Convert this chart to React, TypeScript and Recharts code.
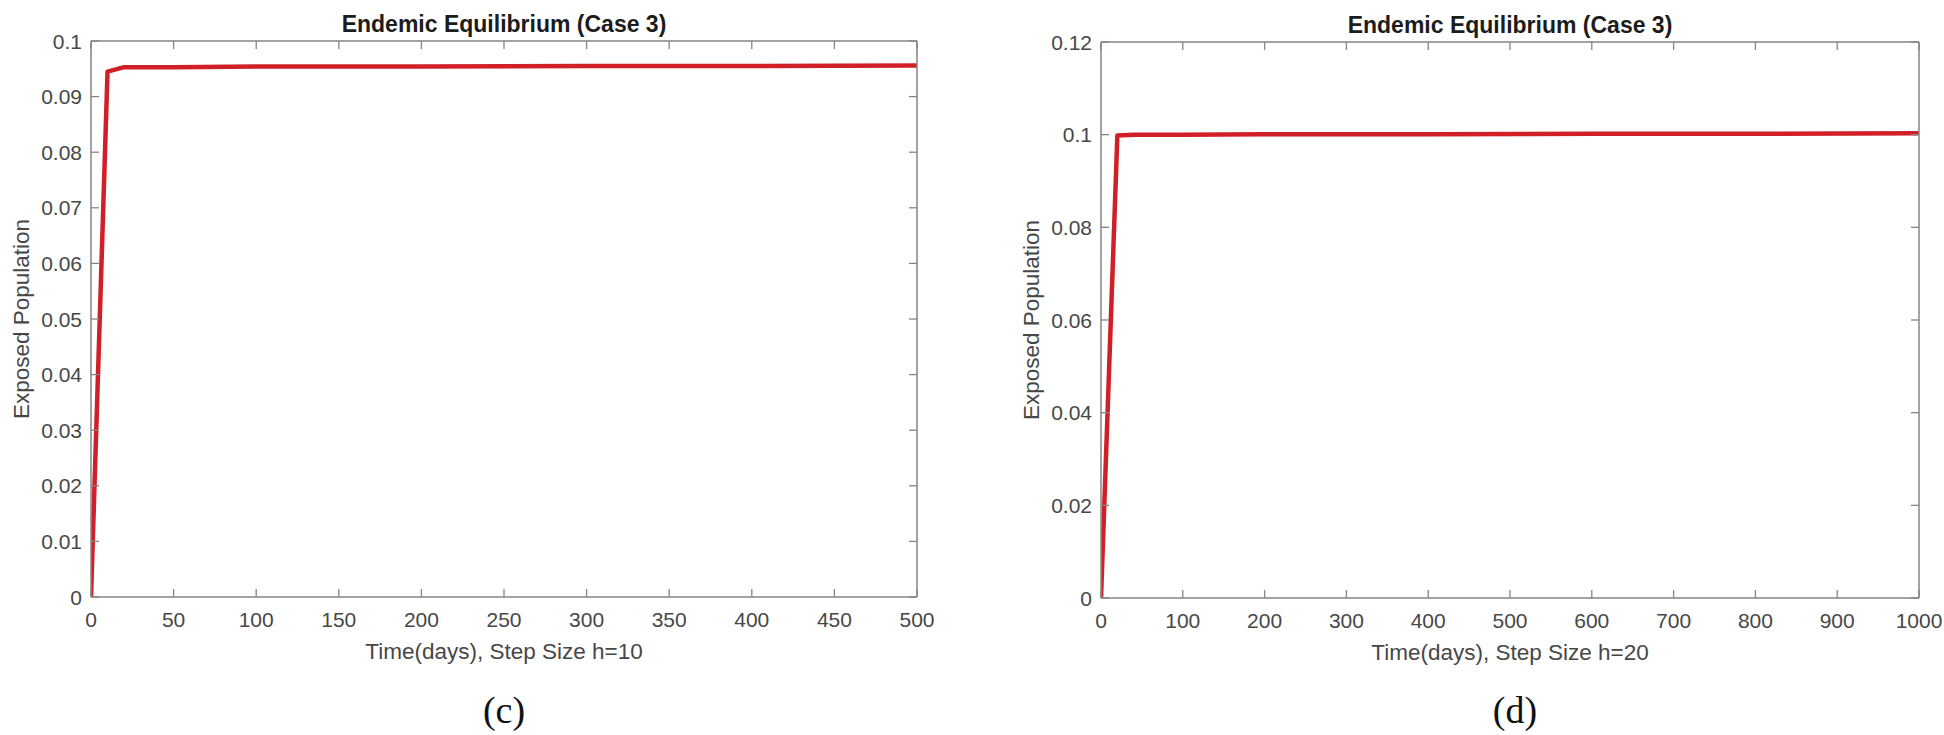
import { LineChart, Line, XAxis, YAxis } from 'recharts';

// panel (c): step size h=10
const timeC = [0, 10, 20, 50, 100, 200, 300, 400, 500];
const exposedC = [0, 0.0945, 0.0953, 0.0953, 0.0954, 0.0954, 0.0955, 0.0955, 0.0956];
const xTicksC = [0, 50, 100, 150, 200, 250, 300, 350, 400, 450, 500];
const yTicksC = [0, 0.01, 0.02, 0.03, 0.04, 0.05, 0.06, 0.07, 0.08, 0.09, 0.1];

// panel (d): step size h=20
const timeD = [0, 20, 40, 100, 200, 400, 600, 800, 1000];
const exposedD = [0, 0.0998, 0.1, 0.1, 0.1001, 0.1001, 0.1002, 0.1002, 0.1003];
const xTicksD = [0, 100, 200, 300, 400, 500, 600, 700, 800, 900, 1000];
const yTicksD = [0, 0.02, 0.04, 0.06, 0.08, 0.1, 0.12];

const FONT = '"Liberation Sans", Arial, sans-serif';
const AXIS = '#858585';
const TXT = '#474747';
const RED = '#d11f28';
const TICK = 8;

const fmt = (v: number) => String(+v.toFixed(2));

const BottomTick = (p: any) => (
  <g>
    <line x1={p.x} y1={p.y} x2={p.x} y2={p.y - TICK} stroke={AXIS} strokeWidth={1.3} />
    <text x={p.x} y={p.y + 30} textAnchor="middle" fontSize={21} fontFamily={FONT} fill={TXT}>
      {fmt(p.payload.value)}
    </text>
  </g>
);

const LeftTick = (p: any) => (
  <g>
    <line x1={p.x} y1={p.y} x2={p.x + TICK} y2={p.y} stroke={AXIS} strokeWidth={1.3} />
    <text x={p.x - 9} y={p.y + 7.5} textAnchor="end" fontSize={21} fontFamily={FONT} fill={TXT}>
      {fmt(p.payload.value)}
    </text>
  </g>
);

const TopTick = (p: any) => (
  <line x1={p.x} y1={p.y} x2={p.x} y2={p.y + TICK} stroke={AXIS} strokeWidth={1.3} />
);

const RightTick = (p: any) => (
  <line x1={p.x} y1={p.y} x2={p.x - TICK} y2={p.y} stroke={AXIS} strokeWidth={1.3} />
);

interface PanelProps {
  time: number[];
  values: number[];
  xTicks: number[];
  yTicks: number[];
  xLabel: string;
  width: number;
  top: number;
  right: number;
}

function Panel({ time, values, xTicks, yTicks, xLabel, width, top, right }: PanelProps) {
  const data = time.map((t, i) => ({ t, e: values[i] }));
  const xMax = xTicks[xTicks.length - 1];
  const yMax = yTicks[yTicks.length - 1];

  // x label plus the panel title, both centred on the plot
  const bottomLabel = (p: any) => {
    const vb = p.viewBox;
    const cx = vb.x + vb.width / 2;
    return (
      <g>
        <text x={cx} y={top - 9} textAnchor="middle" fontSize={23} fontWeight="bold" fontFamily={FONT} fill="#1c1c1c">
          Endemic Equilibrium (Case 3)
        </text>
        <text x={cx} y={vb.y + 62} textAnchor="middle" fontSize={22.5} fontFamily={FONT} fill={TXT}>
          {xLabel}
        </text>
      </g>
    );
  };
  const leftLabel = (p: any) => {
    const vb = p.viewBox;
    const cx = vb.x + 29;
    const cy = vb.y + vb.height / 2;
    return (
      <text x={cx} y={cy} transform={`rotate(-90, ${cx}, ${cy})`} textAnchor="middle" fontSize={22.5} fontFamily={FONT} fill={TXT}>
        Exposed Population
      </text>
    );
  };

  return (
    <LineChart width={width} height={735} data={data} margin={{ top: top - 1, right: right - 1, bottom: 735 - top - 558 - 80 + 2, left: 0 }}>
      <XAxis xAxisId="b" dataKey="t" type="number" domain={[0, xMax]} ticks={xTicks} interval={0}
        tickSize={0} tickMargin={0} tickLine={false} tick={<BottomTick />} height={80}
        axisLine={{ stroke: AXIS, strokeWidth: 1.5 }} label={bottomLabel} allowDataOverflow />
      <XAxis xAxisId="t" orientation="top" dataKey="t" type="number" domain={[0, xMax]} ticks={xTicks} interval={0}
        tickSize={0} tickMargin={0} tickLine={false} tick={<TopTick />} height={1}
        axisLine={{ stroke: AXIS, strokeWidth: 1.5 }} allowDataOverflow />
      <YAxis yAxisId="l" type="number" domain={[0, yMax]} ticks={yTicks} interval={0}
        tickSize={0} tickMargin={0} tickLine={false} tick={<LeftTick />} width={91}
        axisLine={{ stroke: AXIS, strokeWidth: 1.5 }} label={leftLabel} allowDataOverflow />
      <YAxis yAxisId="r" orientation="right" type="number" domain={[0, yMax]} ticks={yTicks} interval={0}
        tickSize={0} tickMargin={0} tickLine={false} tick={<RightTick />} width={1}
        axisLine={{ stroke: AXIS, strokeWidth: 1.5 }} allowDataOverflow />
      <Line xAxisId="b" yAxisId="l" type="linear" dataKey="e" stroke={RED} strokeWidth={4.5}
        strokeLinejoin="round" dot={false} isAnimationActive={false} />
    </LineChart>
  );
}

const capStyle = {
  position: 'absolute' as const,
  top: 690,
  fontFamily: '"Liberation Serif", "Times New Roman", serif',
  fontSize: 38,
  color: '#111',
  lineHeight: '40px',
  transform: 'translateX(-50%)',
};

export default function App() {
  return (
    <div style={{ position: 'absolute', left: 0, top: 0, width: 1944, height: 735, background: '#fff', overflow: 'hidden' }}>
      <div style={{ position: 'absolute', left: 0, top: 0 }}>
        <Panel time={timeC} values={exposedC} xTicks={xTicksC} yTicks={yTicksC}
          xLabel="Time(days), Step Size h=10" width={960} top={41} right={43} />
      </div>
      <div style={{ position: 'absolute', left: 1010, top: 0 }}>
        <Panel time={timeD} values={exposedD} xTicks={xTicksD} yTicks={yTicksD}
          xLabel="Time(days), Step Size h=20" width={934} top={42} right={25} />
      </div>
      <div style={{ ...capStyle, left: 504 }}>(c)</div>
      <div style={{ ...capStyle, left: 1515 }}>(d)</div>
    </div>
  );
}
